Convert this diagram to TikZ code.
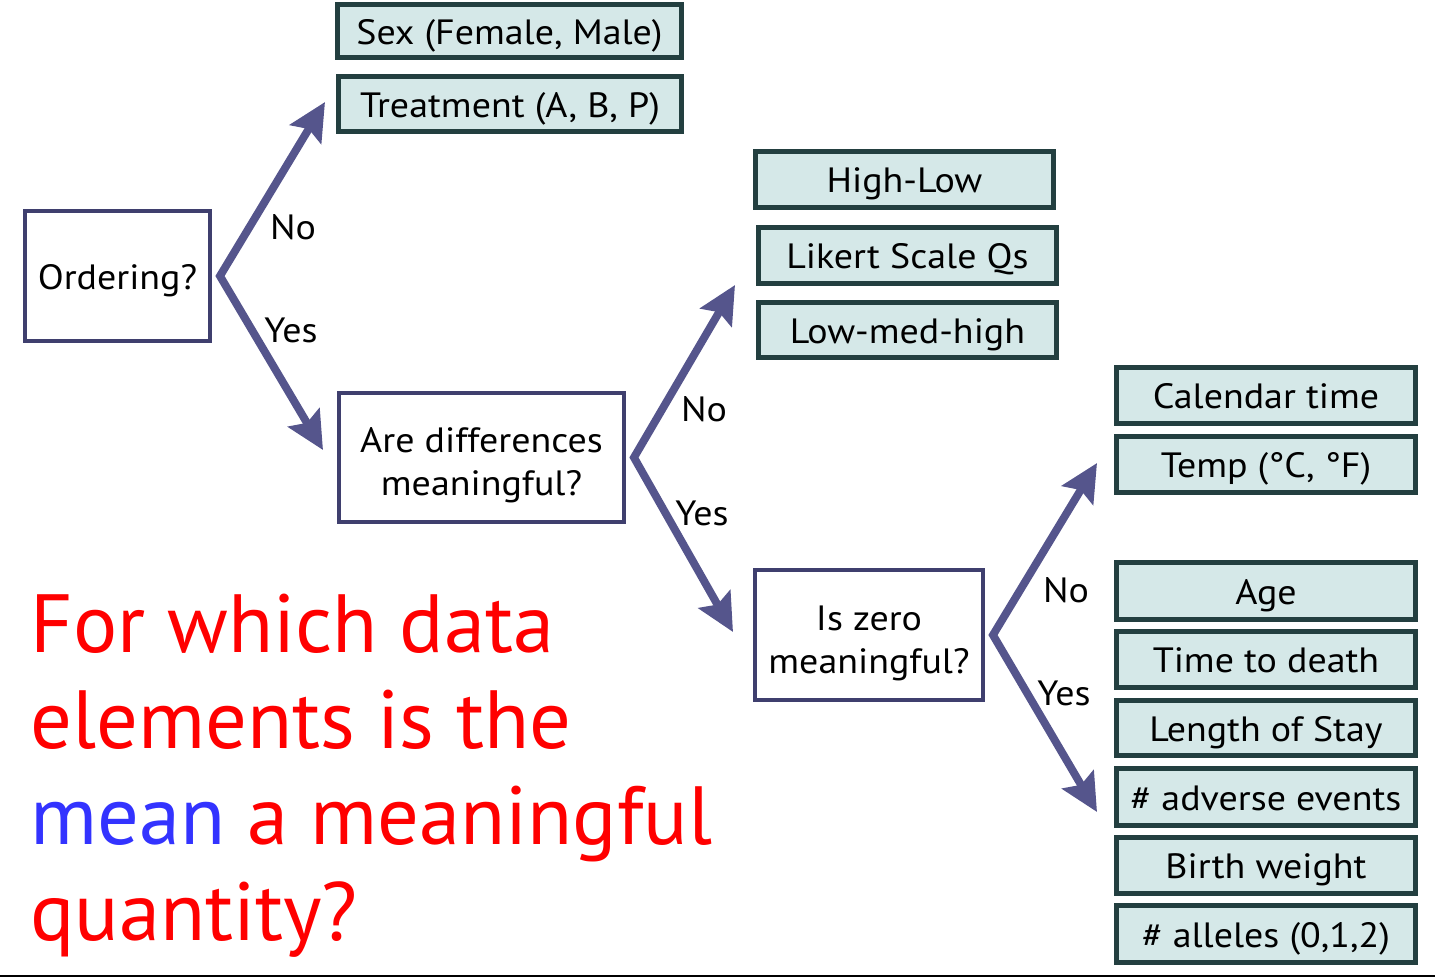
\documentclass[tikz,border=0pt]{standalone}
\usepackage{fontspec}
\setmainfont{PT Sans}
\newfontfamily\bxfont[FakeStretch=1.08]{PT Sans}
\usetikzlibrary{arrows.meta}
\definecolor{qborder}{HTML}{3F3F6E}
\definecolor{arrowc}{HTML}{55558C}
\definecolor{dfill}{HTML}{D5E8E8}
\definecolor{dborder}{HTML}{233F40}
\definecolor{bigred}{HTML}{FF0000}
\definecolor{bigblue}{HTML}{3333FF}
\newcommand{\qtext}[2]{\raisebox{-#1}[\height][\depth]{\begin{tabular}{@{}c@{}}#2\end{tabular}}}
\begin{document}
\begin{tikzpicture}[x=0.02cm,y=-0.02cm,
  qbox/.style={draw=qborder, line width=2.27pt, fill=white, inner sep=0pt, align=center,
    font=\bxfont\fontsize{20}{24.4}\selectfont},
  dbox/.style={draw=dborder, line width=2.83pt, fill=dfill, inner sep=0pt, align=center,
    text height=18pt, text depth=2.8pt,
    font=\bxfont\fontsize{20}{24}\selectfont},
  lbl/.style={font=\bxfont\fontsize{20}{24}\selectfont, inner sep=0pt},
  arr/.style={draw=arrowc, line width=4.5pt, line join=miter,
    {Stealth[length=0.75cm,width=0.72cm,inset=0.12cm]}-{Stealth[length=0.75cm,width=0.72cm,inset=0.12cm]}},
  big/.style={font=\fontsize{47}{54}\selectfont, inner sep=0pt, anchor=base west, text=bigred}]
\useasboundingbox (0,0) rectangle (1435,978);

% question boxes
\node[qbox, minimum width=3.70cm, minimum height=2.60cm] (ord) at (117.5,276) {\qtext{0.09cm}{Ordering?}};
\node[qbox, minimum width=5.70cm, minimum height=2.58cm] (diff) at (481.5,457.5) {\qtext{0.15cm}{Are differences\\meaningful?}};
\node[qbox, minimum width=4.56cm, minimum height=2.60cm] (zero) at (869,635) {\qtext{0.16cm}{Is zero\\meaningful?}};

% data boxes
\node[dbox, minimum width=6.88cm, minimum height=1.06cm] (sex) at (509.5,31) {Sex (Female, Male)};
\node[dbox, minimum width=6.86cm, minimum height=1.10cm] (trt) at (510,104) {Treatment (A, B, P)};
\node[dbox, minimum width=5.96cm, minimum height=1.12cm] (hl) at (904.5,179.5) {High-Low};
\node[dbox, minimum width=5.96cm, minimum height=1.12cm] (lik) at (907.5,255.5) {Likert Scale Qs};
\node[dbox, minimum width=5.96cm, minimum height=1.10cm] (lmh) at (907.5,330) {Low-med-high};
\node[dbox, minimum width=5.98cm, minimum height=1.12cm] (cal) at (1266,395.5) {Calendar time};
\node[dbox, minimum width=5.98cm, minimum height=1.12cm] (tmp) at (1266,464.5) {Temp (°C, °F)};
\node[dbox, minimum width=5.98cm, minimum height=1.14cm] (age) at (1266,591) {Age};
\node[dbox, minimum width=5.98cm, minimum height=1.12cm] (ttd) at (1266,659.5) {Time to death};
\node[dbox, minimum width=5.98cm, minimum height=1.10cm] (los) at (1266,728) {Length of Stay};
\node[dbox, minimum width=5.98cm, minimum height=1.14cm] (adv) at (1266,797) {\# adverse events};
\node[dbox, minimum width=5.98cm, minimum height=1.12cm] (bw) at (1266,865.5) {Birth weight};
\node[dbox, minimum width=5.98cm, minimum height=1.14cm] (all) at (1266,934) {\# alleles (0,1,2)};

% arrow coordinates
\coordinate (v1) at ([xshift=0.16cm]ord.east);
\coordinate (v2) at ([xshift=0.16cm]diff.east);
\coordinate (v3) at ([xshift=0.16cm]zero.east);
\coordinate (n1) at (325,102);
\coordinate (y1) at (323,450);
\coordinate (n2) at (735,285);
\coordinate (y2) at (733,632);
\coordinate (n3) at (1097,463);
\coordinate (y3) at (1097,812);

\draw[arr] (n1) -- (v1) -- (y1);
\draw[arr] (n2) -- (v2) -- (y2);
\draw[arr] (n3) -- (v3) -- (y3);

% labels
\node[lbl] (l1n) at (293,227) {No};
\node[lbl] (l1y) at (291,330) {Yes};
\node[lbl] (l2n) at (704,409) {No};
\node[lbl] (l2y) at (702,513) {Yes};
\node[lbl] (l3n) at (1066,590) {No};
\node[lbl] (l3y) at (1064,693) {Yes};

% question text
\node[big] (t1) at (30,652) {For which data};
\node[big] (t2) at (30,748) {elements is the};
\node[big] (t3) at (30,844) {{\color{bigblue}mean} a meaningful};
\node[big] (t4) at (30,940) {quantity?};

% bottom rule
\draw[line width=1.2pt] (0,976) -- (1435,976);
\end{tikzpicture}
\end{document}
